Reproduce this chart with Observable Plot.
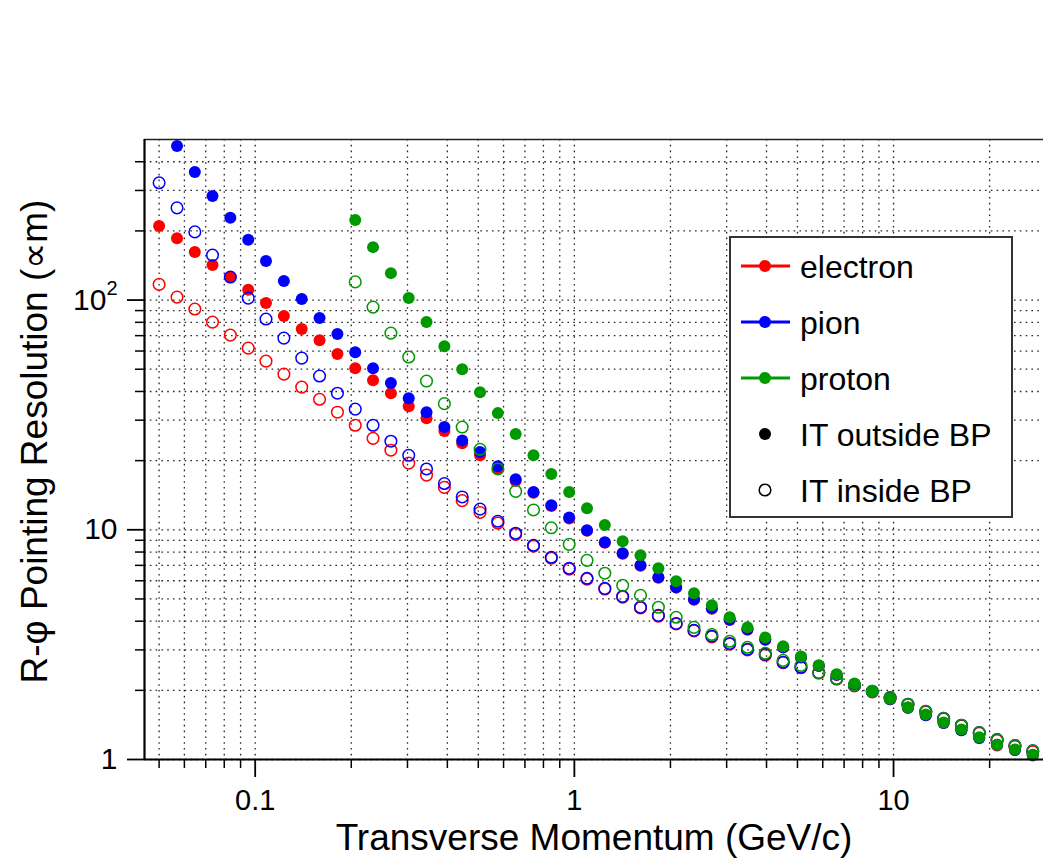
<!DOCTYPE html>
<html>
<head>
<meta charset="utf-8">
<script src="https://cdn.jsdelivr.net/npm/d3@7"></script>
<script src="https://cdn.jsdelivr.net/npm/@observablehq/plot@0.6"></script>
<style>
  html, body { margin: 0; padding: 0; background: #fff; }
  #chart { position: relative; width: 1043px; height: 863px; }
  #chart svg { display: block; }
  #legend { position: absolute; left: 0; top: 0; }
</style>
</head>
<body>
<div id="chart"></div>
<script>
// Transverse momentum bins (GeV/c)
const momentum = [
  0.0500, 0.0569, 0.0647, 0.0735, 0.0836, 0.0951, 0.1081, 0.1230, 0.1399, 0.1591,
  0.1810, 0.2058, 0.2340, 0.2662, 0.3027, 0.3442, 0.3915, 0.4452, 0.5063, 0.5758,
  0.6548, 0.7447, 0.8469, 0.9634, 1.0955, 1.2458, 1.4168, 1.6113, 1.8332, 2.0842,
  2.3704, 2.6958, 3.0655, 3.4864, 3.9640, 4.5092, 5.1286, 5.8318, 6.6327, 7.5440,
  8.5782, 9.7544, 11.094, 12.618, 14.350, 16.320, 18.559, 21.108, 24.006, 27.30
];

// R-phi pointing resolution, inner tracker outside the beam pipe (filled markers)
const electronOutside = [
  210, 186, 162, 142, 126, 111, 97, 85.2, 74.8, 66.9,
  58.2, 50.5, 44.8, 39.3, 34.5, 30.6, 26.9, 23.8, 21.1, 18.5,
  16.3, 14.5, 12.7, 11.2, 9.9, 8.78, 7.87, 6.98, 6.19, 5.60,
  4.96, 4.53, 4.05, 3.67, 3.32, 3.07, 2.78, 2.55, 2.33, 2.13,
  1.97, 1.83, 1.68, 1.56, 1.44, 1.34, 1.24, 1.15, 1.10, 1.04
];
const pionOutside = [
  null, 469, 361, 284, 228, 183, 148, 121, 101, 83.5,
  71.1, 59.3, 50.5, 43.5, 37.4, 32.5, 28.0, 24.5, 21.8, 18.9,
  16.6, 14.6, 12.8, 11.3, 9.95, 8.82, 7.90, 7.00, 6.21, 5.62,
  4.98, 4.55, 4.07, 3.69, 3.33, 3.08, 2.79, 2.56, 2.34, 2.13,
  1.97, 1.83, 1.68, 1.56, 1.44, 1.34, 1.24, 1.16, 1.10, 1.045
];
const protonOutside = [
  null, null, null, null, null, null, null, null, null, null,
  null, 223, 170, 131, 102, 80.2, 63.0, 50.0, 39.7, 32.2,
  26.1, 21.1, 17.5, 14.6, 12.4, 10.5, 8.91, 7.74, 6.80, 5.97,
  5.29, 4.69, 4.16, 3.76, 3.40, 3.11, 2.81, 2.57, 2.35, 2.14,
  1.98, 1.84, 1.69, 1.57, 1.45, 1.35, 1.25, 1.16, 1.105, 1.05
];

// R-phi pointing resolution, inner tracker inside the beam pipe (open markers)
const electronInside = [
  117, 103, 91.4, 80.2, 70.4, 61.8, 54.2, 47.6, 41.8, 37.0,
  32.5, 28.5, 25.0, 22.2, 19.5, 17.3, 15.3, 13.4, 11.9, 10.7,
  9.55, 8.48, 7.52, 6.74, 6.10, 5.52, 5.09, 4.57, 4.21, 3.89,
  3.63, 3.42, 3.18, 3.00, 2.85, 2.64, 2.51, 2.38, 2.24, 2.09,
  1.97, 1.85, 1.73, 1.61, 1.50, 1.40, 1.30, 1.21, 1.14, 1.08
];
const pionInside = [
  324, 252, 198, 157, 126, 102, 82.7, 68.3, 55.9, 46.7,
  39.3, 33.5, 28.5, 24.3, 21.1, 18.4, 15.9, 13.9, 12.3, 10.9,
  9.66, 8.56, 7.59, 6.80, 6.15, 5.56, 5.13, 4.60, 4.24, 3.91,
  3.65, 3.44, 3.20, 3.02, 2.87, 2.65, 2.52, 2.39, 2.25, 2.10,
  1.98, 1.86, 1.74, 1.62, 1.51, 1.41, 1.31, 1.22, 1.15, 1.09
];
const protonInside = [
  null, null, null, null, null, null, null, null, null, null,
  null, 120, 93.2, 71.8, 56.5, 44.4, 35.4, 28.0, 22.4, 18.4,
  14.7, 12.2, 10.2, 8.64, 7.36, 6.47, 5.73, 5.18, 4.60, 4.16,
  3.76, 3.50, 3.27, 3.08, 2.90, 2.70, 2.57, 2.39, 2.25, 2.10,
  1.98, 1.86, 1.74, 1.62, 1.51, 1.41, 1.31, 1.22, 1.15, 1.09
];

const species = ["electron", "pion", "proton"];
const speciesColors = ["#ff0000", "#0000ff", "#009900"];
const configurations = ["IT outside BP", "IT inside BP"];

// Axis ticks and grid positions
const xMajorTicks = [0.1, 1, 10];
const xMinorTicks = [0.05, 0.06, 0.07, 0.08, 0.09, 0.2, 0.3, 0.4, 0.5, 0.6, 0.7, 0.8, 0.9,
                     2, 3, 4, 5, 6, 7, 8, 9, 20];
const yMajorTicks = [1, 10, 100];
const yMinorTicks = [2, 3, 4, 5, 6, 7, 8, 9, 20, 30, 40, 50, 60, 70, 80, 90, 200, 300, 400];
// [base, exponent] for each labelled y tick; exponent drawn as a superscript
const yTickLabels = {1: ["1", ""], 10: ["10", ""], 100: ["10", "2"]};

const xTitle = "Transverse Momentum (GeV/c)";
const yTitle = "R-φ Pointing Resolution (∝m)";

// Long table: one row per marker
const seriesBySpecies = {
  electron: [electronOutside, electronInside],
  pion: [pionOutside, pionInside],
  proton: [protonOutside, protonInside]
};
function rows(sp, cfgIndex) {
  const values = seriesBySpecies[sp][cfgIndex];
  return momentum
    .map((p, i) => ({p, res: values[i], species: sp, config: configurations[cfgIndex]}))
    .filter(d => d.res != null);
}

const W = 1043, H = 863;
const gridStyle = {stroke: "#000", strokeOpacity: 0.85, strokeWidth: 1.3, strokeDasharray: "1.6,4.2"};

const marks = [
  Plot.gridX(xMinorTicks.concat(xMajorTicks), gridStyle),
  Plot.gridY(yMinorTicks.concat(yMajorTicks), gridStyle)
];
species.forEach((sp, i) => {
  marks.push(Plot.dot(rows(sp, 0), {x: "p", y: "res", r: 6, fill: speciesColors[i], stroke: "none"}));
  marks.push(Plot.dot(rows(sp, 1), {x: "p", y: "res", r: 5.8, fill: "none", stroke: speciesColors[i], strokeWidth: 1.5}));
});
marks.push(
  Plot.ruleY([500], {stroke: "#222", strokeWidth: 1.5}),
  Plot.ruleY([1], {stroke: "#000", strokeWidth: 2.2}),
  Plot.ruleX([0.045], {stroke: "#000", strokeWidth: 2.2}),
  Plot.axisX(xMajorTicks, {tickSize: 18, tickPadding: 12, strokeWidth: 1.8, fontSize: 29,
    tickFormat: d => String(d), label: null}),
  Plot.axisX(xMinorTicks, {tickSize: 9, strokeWidth: 1.5, tickFormat: () => "", label: null}),
  Plot.axisY(yMajorTicks, {tickSize: 17, tickPadding: 10, strokeWidth: 1.8, fontSize: 30,
    tickFormat: d => yTickLabels[d].join("|"), label: null, ariaLabel: "y-major"}),
  Plot.axisY(yMinorTicks, {tickSize: 9, strokeWidth: 1.5, tickFormat: () => "", label: null}),
  Plot.text([xTitle], {frameAnchor: "bottom", dy: 90, fontSize: 37, fill: "#000"}),
  Plot.text([yTitle], {frameAnchor: "left", textAnchor: "middle", rotate: -90, dx: -109, dy: -8, fontSize: 37, fill: "#000"})
);

const chart = Plot.plot({
  width: W,
  height: H,
  marginLeft: 144,
  marginRight: 0,
  marginTop: 139,
  marginBottom: 104,
  style: {fontFamily: "'Liberation Sans', Arial, sans-serif", fontSize: "28px", color: "#000", background: "#fff"},
  x: {type: "log", domain: [0.045, 29.5], label: null},
  y: {type: "log", domain: [1, 500], label: null},
  marks
});
const container = document.getElementById("chart");
container.appendChild(chart);

// Power-of-ten labels: split "base|exponent" into base text and a raised exponent
d3.select(chart).selectAll("text").each(function() {
  const t = this.textContent;
  if (!t.includes("|") || this.querySelector("tspan")) return;
  const [base, exp] = t.split("|");
  const sel = d3.select(this);
  sel.text(base);
  if (exp) {
    sel.append("tspan").attr("font-size", 20).attr("dy", "-0.75em").text(exp);
  }
});

// Legend box drawn over the plot area, top-right
const lg = d3.select(container).append("svg")
  .attr("id", "legend")
  .attr("width", W).attr("height", H)
  .style("pointer-events", "none");
const box = {x: 730, y: 237, w: 282, h: 280};
const g = lg.append("g").attr("transform", `translate(${box.x},${box.y})`);
g.append("rect").attr("width", box.w).attr("height", box.h)
  .attr("fill", "#fff").attr("stroke", "#333").attr("stroke-width", 2);
const entries = species.map((s, i) => ({label: s, color: speciesColors[i], kind: "line"}))
  .concat([{label: configurations[0], color: "#000", kind: "filled"},
           {label: configurations[1], color: "#000", kind: "open"}]);
entries.forEach((e, i) => {
  const cy = 29 + i * 56;
  if (e.kind === "line") {
    g.append("line").attr("x1", 11).attr("x2", 60).attr("y1", cy).attr("y2", cy)
      .attr("stroke", e.color).attr("stroke-width", 3);
    g.append("circle").attr("cx", 35).attr("cy", cy).attr("r", 6).attr("fill", e.color);
  } else if (e.kind === "filled") {
    g.append("circle").attr("cx", 35).attr("cy", cy).attr("r", 6).attr("fill", e.color);
  } else {
    g.append("circle").attr("cx", 35).attr("cy", cy).attr("r", 5.8)
      .attr("fill", "none").attr("stroke", e.color).attr("stroke-width", 1.5);
  }
  g.append("text").attr("x", 70).attr("y", cy).attr("dy", "0.36em")
    .attr("font-family", "'Liberation Sans', Arial, sans-serif")
    .attr("font-size", 32).attr("fill", "#000").text(e.label);
});
</script>
</body>
</html>
